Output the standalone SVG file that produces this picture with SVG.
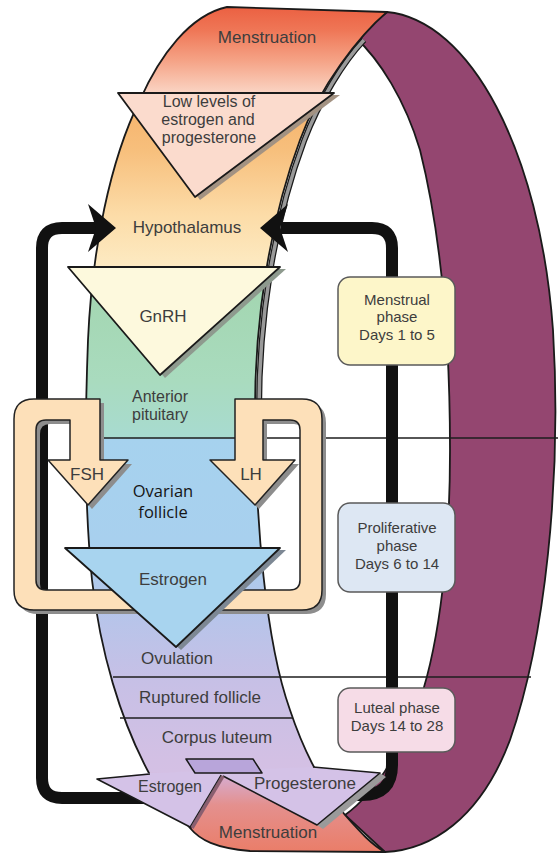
<svg xmlns="http://www.w3.org/2000/svg" width="558" height="856" viewBox="0 0 558 856">
  <defs>
    <!-- colour run of the front ribbon, top (menstruation) to bottom (menstruation) -->
    <linearGradient id="bandFill" gradientUnits="userSpaceOnUse" x1="0" y1="0" x2="0" y2="1000">
      <stop offset="0" stop-color="#ea5a3c"/>
      <stop offset="0.030" stop-color="#ef7656"/>
      <stop offset="0.060" stop-color="#f5a285"/>
      <stop offset="0.092" stop-color="#fad3c2"/>
      <stop offset="0.093" stop-color="#f5b068"/>
      <stop offset="0.150" stop-color="#f7bf7c"/>
      <stop offset="0.215" stop-color="#fcdca8"/>
      <stop offset="0.266" stop-color="#fdeac2"/>
      <stop offset="0.2675" stop-color="#a2d5ae"/>
      <stop offset="0.380" stop-color="#a9dbbe"/>
      <stop offset="0.437" stop-color="#a8dbd0"/>
      <stop offset="0.439" stop-color="#a6d2ee"/>
      <stop offset="0.540" stop-color="#a8d0ee"/>
      <stop offset="0.610" stop-color="#b5c5ea"/>
      <stop offset="0.677" stop-color="#c6c0e6"/>
      <stop offset="0.760" stop-color="#d3c0e4"/>
      <stop offset="0.772" stop-color="#d4c0e4"/>
      <stop offset="0.780" stop-color="#d8a8c6"/>
      <stop offset="0.805" stop-color="#e4908e"/>
      <stop offset="0.850" stop-color="#ea7e6a"/>
    </linearGradient>
    <style>
      .lbl{font-family:"Liberation Sans",Arial,sans-serif;font-size:17px;fill:#3d3d3d;text-anchor:middle}
      .lbl2{font-family:"Liberation Sans",Arial,sans-serif;font-size:16px;fill:#3d3d3d;text-anchor:middle}
      .ph{font-family:"Liberation Sans",Arial,sans-serif;font-size:15px;fill:#3d3d3d;text-anchor:middle}
      .ovf{font-family:"Open Sans","Noto Sans",sans-serif;font-size:16.5px;fill:#151515;text-anchor:middle}
      .edge{stroke:#1a1a1a;stroke-width:1.8;stroke-linejoin:round}
      .thin{fill:none;stroke:#1a1a1a;stroke-width:1.6;stroke-linejoin:round}
      .shadow{fill:#8d8d8d}
      .phase{stroke:#5a5a5a;stroke-width:1.5}
      .wire{fill:none;stroke:#111;stroke-width:12}
      .head{fill:#111}
      .divider{stroke:#1e1e1e;stroke-width:1.5}
    </style>
  </defs>

  <rect width="558" height="856" fill="#ffffff"/>

  <!-- back half of the cycle ring -->
  <g id="ring-back">
    <path d="M387,12 C470,20 540,150 553,330 C562,480 545,640 510,740 C480,820 430,850 385,852 L345,815 C380,790 405,740 420,700 C440,640 450,550 450,450 C450,330 440,230 420,150 C405,100 380,60 355,37 Z" fill="#944670" class="edge"/>
  </g>

  <!-- front ribbon -->
  <g id="band">
    <g transform="translate(4,1)">
      <path d="M360,39 C340,60 315,100 300,140 C270,220 254,320 255,420" fill="none" stroke="#1a1a1a" stroke-width="6"/>
      <path d="M360,39 C340,60 315,100 300,140 C270,220 254,320 255,420" fill="none" stroke="#9a9a9a" stroke-width="3.5"/>
    </g>
    <path d="M227,7 L387,12 C360,35 320,85 300,140 C270,220 254,320 255,420 C256,520 265,640 290,710 C305,755 325,790 345,815 C360,832 372,845 385,852 L250,851 C215,848 200,840 190,828 C175,810 162,795 150,775 C120,720 100,650 92,580 C84,500 85,420 88,340 C92,250 110,160 140,100 C160,55 190,15 227,7 Z" fill="url(#bandFill)" class="edge"/>
  </g>

  <!-- phase dividers -->
  <g id="dividers" class="divider">
    <line x1="86" y1="438" x2="558" y2="438"/>
    <line x1="113" y1="677" x2="531" y2="677"/>
    <line x1="120" y1="718" x2="293" y2="718"/>
  </g>

  <g id="node-menstruation-top">
    <text class="lbl" x="267" y="43">Menstruation</text>
  </g>

  <g id="node-low-levels">
    <polygon points="123,95 340,95 200,200" fill="#a39282"/>
    <polygon points="118,93 334,93 195,197" fill="#fbdbcd" class="edge"/>
    <text class="lbl2" x="209" y="107">Low levels of</text>
    <text class="lbl2" x="208" y="125">estrogen and</text>
    <text class="lbl2" x="209" y="143">progesterone</text>
  </g>

  <g id="node-hypothalamus">
    <text class="lbl" x="187" y="233">Hypothalamus</text>
  </g>

  <g id="node-gnrh">
    <polygon points="73,269 286,269 165,378" fill="#8e9a8e"/>
    <polygon points="68,267 280,267 160,375" fill="#fdf9dd" class="edge"/>
    <text class="lbl" x="163" y="322">GnRH</text>
  </g>

  <g id="node-anterior-pituitary">
    <text class="lbl2" x="160" y="402">Anterior</text>
    <text class="lbl2" x="160" y="420">pituitary</text>
  </g>

  <!-- feedback loops back to the hypothalamus -->
  <g id="connectors">
    <path class="wire" d="M96,228 L62,228 Q42,228 42,248 L42,778 Q42,798 62,798 L150,798"/>
    <polygon class="head" points="88,204 116,228 88,252 96,228"/>
    <path class="wire" d="M281,228 L372,228 Q392,228 392,248 L392,765 Q392,795 362,795 L335,795"/>
    <polygon class="head" points="288,204 260,228 288,252 280,228"/>
  </g>

  <!-- FSH / LH loop -->
  <g id="node-fsh-lh">
    <path transform="translate(4,4)" class="shadow" d="M100,399 L34,399 Q14,399 14,419 L14,590 Q14,610 34,610 L302,610 Q322,610 322,590 L322,419 Q322,399 302,399 L235,399 L235,460 L210,460 L255,505 L295,460 L263,460 L263,420 L290,420 Q300,420 300,430 L300,580 Q300,590 290,590 L46,590 Q36,590 36,580 L36,430 Q36,420 46,420 L70,420 L70,460 L48,460 L88,505 L128,460 L100,460 Z"/>
    <path fill="#fde0b9" stroke="#222" stroke-width="1.5" stroke-linejoin="round" d="M100,399 L34,399 Q14,399 14,419 L14,590 Q14,610 34,610 L302,610 Q322,610 322,590 L322,419 Q322,399 302,399 L235,399 L235,460 L210,460 L255,505 L295,460 L263,460 L263,420 L290,420 Q300,420 300,430 L300,580 Q300,590 290,590 L46,590 Q36,590 36,580 L36,430 Q36,420 46,420 L70,420 L70,460 L48,460 L88,505 L128,460 L100,460 Z"/>
    <text class="lbl" x="87" y="480">FSH</text>
    <text class="lbl" x="251" y="480">LH</text>
  </g>

  <g id="node-ovarian-follicle">
    <text class="ovf" x="163" y="497">Ovarian</text>
    <text class="ovf" x="163" y="518">follicle</text>
  </g>

  <g id="node-estrogen">
    <polygon points="70,550 286,550 181,650" fill="#7d8894"/>
    <polygon points="65,548 280,548 176,647" fill="#a8d4ef" class="edge"/>
    <text class="lbl" x="173" y="585">Estrogen</text>
  </g>

  <g id="node-ovulation">
    <text class="lbl" x="177" y="664">Ovulation</text>
  </g>

  <g id="node-ruptured-follicle">
    <text class="lbl" x="200" y="703">Ruptured follicle</text>
  </g>

  <g id="node-corpus-luteum">
    <text class="lbl" x="217" y="743">Corpus luteum</text>
  </g>

  <!-- corpus luteum outputs: estrogen and progesterone -->
  <g id="node-hormone-output">
    <polygon points="317,825 380,773 386,777 323,829" fill="#9a9a9a"/>
    <polygon points="150,773 97,779 192,828 223,776 317,825 380,773 313,767" fill="#d4c2e7"/>
    <polyline class="thin" points="150,774 97,779 192,828"/>
    <polyline class="thin" points="223,776 317,825 380,773 313,767"/>
    <line x1="192" y1="828" x2="223" y2="776" stroke="#8a5f70" stroke-width="3.5"/>
    <line x1="190" y1="827" x2="221" y2="775" stroke="#1a1a1a" stroke-width="1.2"/>
    <polygon points="186,759 253,759 262,773 195,773" fill="#b8a5da" class="edge" style="stroke-width:1.5"/>
    <text class="lbl" x="170" y="792" style="font-size:16px">Estrogen</text>
    <text class="lbl" x="305" y="789">Progesterone</text>
  </g>

  <g id="node-menstruation-bottom">
    <text class="lbl" x="268" y="838">Menstruation</text>
  </g>

  <!-- phase labels -->
  <g id="node-menstrual-phase">
    <rect x="338" y="277" width="117" height="88" rx="12" fill="#fdf6c9" class="phase"/>
    <text class="ph" x="397" y="305">Menstrual</text>
    <text class="ph" x="397" y="322">phase</text>
    <text class="ph" x="397" y="340">Days 1 to 5</text>
  </g>

  <g id="node-proliferative-phase">
    <rect x="338" y="503" width="117" height="89" rx="12" fill="#dde7f3" class="phase"/>
    <text class="ph" x="397" y="533">Proliferative</text>
    <text class="ph" x="397" y="551">phase</text>
    <text class="ph" x="397" y="569">Days 6 to 14</text>
  </g>

  <g id="node-luteal-phase">
    <rect x="338" y="688" width="117" height="64" rx="12" fill="#f6dce7" class="phase"/>
    <text class="ph" x="397" y="713">Luteal phase</text>
    <text class="ph" x="397" y="731">Days 14 to 28</text>
  </g>
</svg>
